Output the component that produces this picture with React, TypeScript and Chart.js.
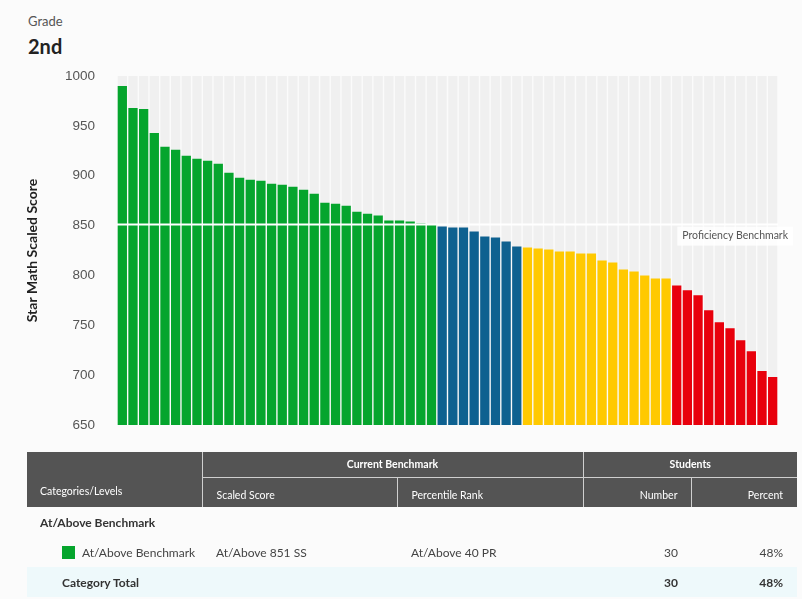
import React, { useEffect, useRef } from "react";
import { Chart, registerables } from "chart.js";

Chart.register(...registerables);

// ---- Data ----
const aboveBenchmark = [990, 968, 967, 943, 929, 926, 920, 917, 915, 912, 903, 898, 896, 895, 892, 891, 889, 886, 882, 873, 872, 870, 864, 862, 860, 855, 855, 854, 852, 851];
const onWatch = [849, 848, 848, 844, 839, 838, 834, 829];
const intervention = [828, 827, 826, 824, 824, 822, 822, 815, 813, 806, 804, 800, 797, 797];
const urgentIntervention = [790, 785, 780, 765, 753, 747, 735, 724, 704, 698];
const levelColors = ["#05a52d", "#0e6190", "#ffc900", "#e8000c"];
const yTicks = [650, 700, 750, 800, 850, 900, 950, 1000];
const BENCHMARK = 851;
const BENCHMARK_LABEL = "Proficiency Benchmark";
const Y_TITLE = "Star Math Scaled Score";

const levels = [aboveBenchmark, onWatch, intervention, urgentIntervention];
const scores = levels.flat();
const barColors = levels.flatMap((arr, i) => arr.map(() => levelColors[i]));
const studentLabels = scores.map((_, i) => `Student ${i + 1}`);
const Y_MIN = yTicks[0];
const Y_MAX = yTicks[yTicks.length - 1];

const benchmarkPlugin = {
  id: "benchmarkLine",
  afterDatasetsDraw(chart: any) {
    const { ctx, chartArea } = chart;
    const y = chart.scales.y.getPixelForValue(BENCHMARK);
    ctx.save();
    ctx.strokeStyle = "#ffffff";
    ctx.lineWidth = 2;
    ctx.beginPath();
    ctx.moveTo(chartArea.left, y);
    ctx.lineTo(chartArea.right, y);
    ctx.stroke();
    ctx.font = "10.5px Lato";
    const tw = ctx.measureText(BENCHMARK_LABEL).width;
    const x1 = chartArea.right + 15;
    const x0 = x1 - tw - 10;
    ctx.fillStyle = "rgba(255,255,255,0.85)";
    ctx.fillRect(x0, y + 2, x1 - x0, 19);
    ctx.fillStyle = "#555555";
    ctx.textBaseline = "middle";
    ctx.textAlign = "left";
    ctx.fillText(BENCHMARK_LABEL, x0 + 5, y + 11);
    ctx.restore();
  },
};

function BarChart() {
  const ref = useRef<HTMLCanvasElement>(null);
  useEffect(() => {
    if (!ref.current) return;
    const chart = new Chart(ref.current, {
      type: "bar",
      data: {
        labels: studentLabels,
        datasets: [
          {
            label: "Score",
            data: scores,
            backgroundColor: barColors,
            grouped: false,
            order: 0,
            barPercentage: 0.87,
            categoryPercentage: 1,
          } as any,
          {
            label: "Background",
            data: scores.map(() => Y_MAX),
            backgroundColor: "#f0f0f0",
            grouped: false,
            order: 1,
            barPercentage: 0.87,
            categoryPercentage: 1,
          } as any,
        ],
      },
      options: {
        responsive: false,
        animation: false,
        layout: { padding: { left: 0, right: 24, top: 0, bottom: 0 } },
        plugins: { legend: { display: false }, tooltip: { enabled: false } },
        scales: {
          x: { display: false },
          y: {
            min: Y_MIN,
            max: Y_MAX,
            afterFit: (s: any) => { s.width = 117; },
            afterBuildTicks: (s: any) => { s.ticks = yTicks.map((v) => ({ value: v })); },
            grid: { display: false, drawTicks: false },
            border: { display: false },
            ticks: {
              padding: 22,
              color: "#555555",
              font: { family: "'Liberation Sans', Arial", size: 13.5 },
              callback: (v: any) => String(v),
            },
            title: {
              display: true,
              text: Y_TITLE,
              color: "#222222",
              font: { family: "Lato", size: 14, weight: "bold" },
              padding: { top: 24, bottom: 0 },
            },
          },
        },
      },
      plugins: [benchmarkPlugin],
    });
    return () => chart.destroy();
  }, []);
  return <canvas ref={ref} width={802} height={409} style={{ position: "absolute", left: 0, top: 46, width: 802, height: 409 }} />;
}

const th: React.CSSProperties = {
  background: "#545454",
  color: "#ffffff",
  fontSize: 10.5,
  fontWeight: 400,
  borderLeft: "1px solid #cfcfcf",
  padding: 0,
};

export default function App() {
  return (
    <div style={{ position: "absolute", left: 0, top: 0, width: 802, height: 599, background: "#fbfbfb", fontFamily: "Lato, sans-serif", overflow: "hidden" }}>
      <div style={{ position: "absolute", left: 28, top: 13, fontSize: 13, color: "#555" }}>Grade</div>
      <div style={{ position: "absolute", left: 28, top: 34, fontSize: 20, fontWeight: 700, color: "#222" }}>2nd</div>
      <BarChart />
      <table style={{ position: "absolute", left: 27, top: 452, width: 770, borderCollapse: "collapse", tableLayout: "fixed" }}>
        <colgroup>
          <col style={{ width: 175 }} />
          <col style={{ width: 195 }} />
          <col style={{ width: 186 }} />
          <col style={{ width: 108 }} />
          <col style={{ width: 106 }} />
        </colgroup>
        <thead>
          <tr style={{ height: 25 }}>
            <th rowSpan={2} style={{ ...th, borderLeft: "none", textAlign: "left", verticalAlign: "bottom", paddingLeft: 13, paddingBottom: 10 }}>Categories/Levels</th>
            <th colSpan={2} style={{ ...th, fontWeight: 700, textAlign: "center", borderBottom: "1px solid #cfcfcf" }}>Current Benchmark</th>
            <th colSpan={2} style={{ ...th, fontWeight: 700, textAlign: "center", borderBottom: "1px solid #cfcfcf" }}>Students</th>
          </tr>
          <tr style={{ height: 30 }}>
            <th style={{ ...th, textAlign: "left", verticalAlign: "bottom", paddingLeft: 14, paddingBottom: 6 }}>Scaled Score</th>
            <th style={{ ...th, textAlign: "left", verticalAlign: "bottom", paddingLeft: 14, paddingBottom: 6 }}>Percentile Rank</th>
            <th style={{ ...th, textAlign: "right", verticalAlign: "bottom", paddingRight: 13, paddingBottom: 6 }}>Number</th>
            <th style={{ ...th, textAlign: "right", verticalAlign: "bottom", paddingRight: 14, paddingBottom: 6 }}>Percent</th>
          </tr>
        </thead>
        <tbody style={{ fontSize: 12, color: "#444" }}>
          <tr style={{ height: 30 }}>
            <td colSpan={5} style={{ paddingLeft: 13, fontWeight: 700, color: "#333" }}>At/Above Benchmark</td>
          </tr>
          <tr style={{ height: 30 }}>
            <td style={{ paddingLeft: 35 }}>
              <span style={{ display: "inline-block", width: 13, height: 13, background: levelColors[0], verticalAlign: "-2px", marginRight: 7 }} />
              At/Above Benchmark
            </td>
            <td style={{ paddingLeft: 14 }}>At/Above {BENCHMARK} SS</td>
            <td style={{ paddingLeft: 14 }}>At/Above 40 PR</td>
            <td style={{ textAlign: "right", paddingRight: 13 }}>{aboveBenchmark.length}</td>
            <td style={{ textAlign: "right", paddingRight: 14 }}>{Math.round((aboveBenchmark.length / scores.length) * 100)}%</td>
          </tr>
          <tr style={{ height: 30, background: "#eef9fb", fontWeight: 700, color: "#333" }}>
            <td style={{ paddingLeft: 35 }}>Category Total</td>
            <td />
            <td />
            <td style={{ textAlign: "right", paddingRight: 13 }}>{aboveBenchmark.length}</td>
            <td style={{ textAlign: "right", paddingRight: 14 }}>{Math.round((aboveBenchmark.length / scores.length) * 100)}%</td>
          </tr>
        </tbody>
      </table>
    </div>
  );
}
